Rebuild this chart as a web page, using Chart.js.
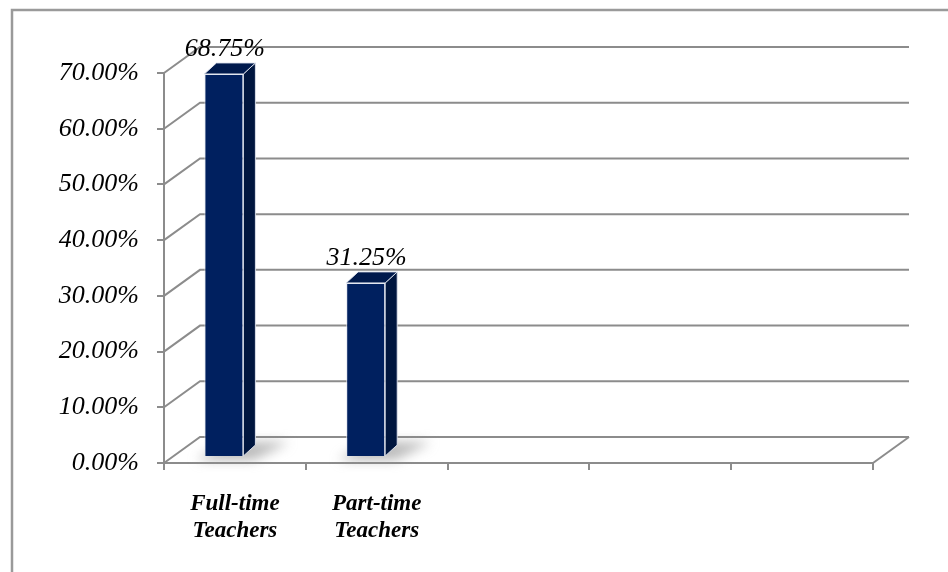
<!DOCTYPE html>
<html>
<head>
<meta charset="utf-8">
<script src="https://cdn.jsdelivr.net/npm/chart.js@4"></script>
<style>
  html, body { margin: 0; padding: 0; background: #fff; }
  canvas { display: block; }
</style>
</head>
<body>
<canvas id="chart" width="948" height="572"></canvas>
<script>
// === DATA ===
const categories = [['Full-time', 'Teachers'], ['Part-time', 'Teachers'], '', '', ''];
const shares = [68.75, 31.25, null, null, null];
const yTicks = [0, 10, 20, 30, 40, 50, 60, 70];

// === 3D LOOK ===
const WALL_DX = 36, WALL_DY = -26;   // back wall offset
const BAR_DX = -11, BAR_DY = -6;     // bars sit a little into the depth
const SIDE_DX = 12, SIDE_DY = -11;   // bar side / top faces
const GRID = '#8c8c8c';
const SERIF = "'Liberation Serif', 'Times New Roman', serif";

const fakeDepth = {
  id: 'fakeDepth',
  beforeDraw(chart) {
    const ctx = chart.ctx;
    ctx.save();
    ctx.strokeStyle = '#9a9a9a';
    ctx.lineWidth = 2.5;
    ctx.beginPath();
    ctx.moveTo(12, 572);
    ctx.lineTo(12, 10);
    ctx.lineTo(948, 10);
    ctx.stroke();
    ctx.restore();
  },
  beforeDatasetsDraw(chart) {
    const ctx = chart.ctx;
    const { left, right, bottom } = chart.chartArea;
    const y = chart.scales.y;
    ctx.save();
    ctx.strokeStyle = GRID;
    ctx.lineWidth = 2;
    yTicks.forEach(v => {
      const py = y.getPixelForValue(v);
      ctx.beginPath();
      ctx.moveTo(left, py);
      ctx.lineTo(left + WALL_DX, py + WALL_DY);
      ctx.lineTo(right + WALL_DX, py + WALL_DY);
      ctx.stroke();
    });
    // floor right edge
    ctx.beginPath();
    ctx.moveTo(right, bottom);
    ctx.lineTo(right + WALL_DX, bottom + WALL_DY);
    ctx.stroke();
    ctx.restore();

    // shadows + move bars into depth
    ctx.save();
    ctx.translate(BAR_DX, BAR_DY);
    chart.getDatasetMeta(0).data.forEach((bar, i) => {
      if (shares[i] == null) return;
      const l = bar.x - bar.width / 2, r = bar.x + bar.width / 2, b = bar.base;
      ctx.save();
      ctx.filter = 'blur(6px)';
      ctx.fillStyle = 'rgba(140,140,140,0.6)';
      ctx.beginPath();
      ctx.moveTo(l - 8, b + 4);
      ctx.lineTo(r + 10, b + 4);
      ctx.lineTo(r + 46, b - 14);
      ctx.lineTo(l + 22, b - 14);
      ctx.closePath();
      ctx.fill();
      ctx.restore();
    });
  },
  afterDatasetsDraw(chart) {
    const ctx = chart.ctx;
    const meta = chart.getDatasetMeta(0);
    meta.data.forEach((bar, i) => {
      if (shares[i] == null) return;
      const l = bar.x - bar.width / 2, r = bar.x + bar.width / 2;
      const t = bar.y, b = bar.base;
      ctx.strokeStyle = 'rgba(225,230,240,0.9)';
      ctx.lineWidth = 1;
      // side face
      ctx.fillStyle = '#00163f';
      ctx.beginPath();
      ctx.moveTo(r, t);
      ctx.lineTo(r + SIDE_DX, t + SIDE_DY);
      ctx.lineTo(r + SIDE_DX, b + SIDE_DY);
      ctx.lineTo(r, b);
      ctx.closePath();
      ctx.fill();
      ctx.stroke();
      // top face
      ctx.fillStyle = '#001a4d';
      ctx.beginPath();
      ctx.moveTo(l, t);
      ctx.lineTo(r, t);
      ctx.lineTo(r + SIDE_DX, t + SIDE_DY);
      ctx.lineTo(l + SIDE_DX, t + SIDE_DY);
      ctx.closePath();
      ctx.fill();
      ctx.stroke();
    });
    ctx.restore();

    // value labels
    ctx.save();
    ctx.fillStyle = '#000';
    ctx.font = 'italic 26px ' + SERIF;
    ctx.textAlign = 'center';
    ctx.textBaseline = 'alphabetic';
    meta.data.forEach((bar, i) => {
      if (shares[i] == null) return;
      ctx.fillText(shares[i].toFixed(2) + '%', bar.x + BAR_DX + 1, bar.y + BAR_DY - 18);
    });
    ctx.restore();
  }
};

// === CHART ===
new Chart(document.getElementById('chart'), {
  type: 'bar',
  data: {
    labels: categories,
    datasets: [{
      data: shares,
      backgroundColor: '#00205f',
      borderColor: 'rgba(225,230,240,0.9)',
      borderWidth: 1,
      categoryPercentage: 1,
      barPercentage: 0.275
    }]
  },
  options: {
    responsive: false,
    animation: false,
    layout: { padding: { left: 0, top: 73, right: 75, bottom: 0 } },
    plugins: { legend: { display: false }, tooltip: { enabled: false } },
    scales: {
      x: {
        offset: true,
        grid: { offset: true, drawOnChartArea: false, tickLength: 7, color: GRID, lineWidth: 2 },
        border: { display: true, color: GRID, width: 2 },
        ticks: {
          color: '#000',
          padding: 20,
          maxRotation: 0,
          font: { family: SERIF, size: 23, style: 'italic', weight: 'bold', lineHeight: 1.18 }
        },
        afterFit: s => { s.height = 109; }
      },
      y: {
        min: 0,
        max: 70,
        afterBuildTicks: s => { s.ticks = yTicks.map(v => ({ value: v })); },
        grid: { drawOnChartArea: false, tickLength: 7, color: GRID, lineWidth: 2 },
        border: { display: true, color: GRID, width: 2 },
        ticks: {
          color: '#000',
          padding: 18,
          font: { family: SERIF, size: 26, style: 'italic' },
          callback: v => v.toFixed(2) + '%'
        },
        afterFit: s => { s.width = 164; }
      }
    }
  },
  plugins: [fakeDepth]
});
</script>
</body>
</html>
